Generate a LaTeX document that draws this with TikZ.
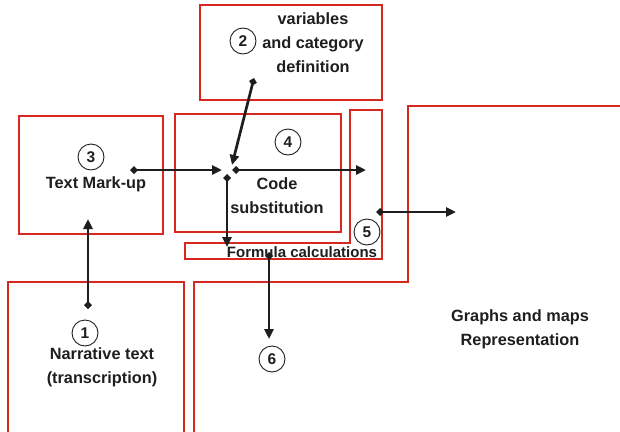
\documentclass[tikz,border=0pt]{standalone}
\usepackage{fontspec}
\setmainfont{Liberation Sans}
\usetikzlibrary{arrows.meta,positioning}
\definecolor{BoxRed}{RGB}{214,40,32}
\definecolor{InkGray}{RGB}{30,30,30}

\tikzset{
	box/.style={draw=BoxRed, line width=1.8pt, inner sep=0pt},
	num/.style={draw=InkGray, text=InkGray, circle, line width=0.9pt, minimum size=26pt, inner sep=0pt, font=\fontsize{15.5}{15}\selectfont\bfseries},
	lbl/.style={align=center, inner sep=0pt, text=InkGray, font=\fontsize{16.3}{24}\selectfont\bfseries},
	flow/.style={draw=InkGray, line width=2.7pt, {Diamond[length=8pt,width=8pt]}-{Triangle[length=10pt,width=9pt]}}
}

\begin{document}
\begin{tikzpicture}[x=1pt, y=-1pt]
	\useasboundingbox (0,0) rectangle (620,431);
	\clip (0,0) rectangle (620,431);
	% boxes
	\node[box, minimum width=182pt, minimum height=95pt] (vars) at (291,52.5) {};
	\node[box, minimum width=144pt, minimum height=118pt] (markup) at (91,175) {};
	\node[box, minimum width=166pt, minimum height=118pt] (code) at (258,173) {};
	\draw[box] (8,445) -- (8,282) -- (184,282) -- (184,445);
	\draw[box] (350,110) -- (382,110) -- (382,259) -- (185,259) -- (185,243) -- (350,243) -- cycle;
	\draw[box] (194,445) -- (194,282) -- (408,282) -- (408,106) -- (630,106);
	% labels
	\node[lbl] (varstext) at (313,43) {variables\\and category\\definition};
	\node[lbl] (markuptext) at (96,184) {Text Mark-up};
	\node[lbl] (codetext) at (277,196) {Code\\substitution};
	\node[lbl, font=\fontsize{15}{18}\selectfont\bfseries] (formula) at (302,252) {Formula calculations};
	\node[lbl] (narrative) at (102,367) {Narrative text\\(transcription)};
	\node[lbl] (graphs) at (520,329) {Graphs and maps\\Representation};
	% numbers
	\node[num] (n1) at (85,333) {1};
	\node[num] (n2) at (243,41) {2};
	\node[num] (n3) at (91,157) {3};
	\node[num] (n4) at (288,142) {4};
	\node[num] (n5) at (367,232) {5};
	\node[num] (n6) at (272,359) {6};
	% connector ends
	\coordinate (markupout) at (130,170);
	\coordinate (joinin) at (222,170);
	\coordinate (joinout) at (232,170);
	\coordinate (codeout) at (366,170);
	\coordinate (varsout) at (254,78);
	\coordinate (joinup) at (232,165);
	\coordinate (joindown) at (227,174);
	\coordinate (formulain) at (227,247);
	\coordinate (formulaout) at (269,252);
	\coordinate (graphsin) at (269,339);
	\coordinate (calcout) at (376,212);
	\coordinate (calcend) at (456,212);
	\coordinate (narrout) at (88,309);
	\coordinate (markupin) at (88,219);
	% arrows
	\draw[flow] (markupout) -- (joinin);
	\draw[flow] (joinout) -- (codeout);
	\draw[flow] (varsout) -- (joinup);
	\draw[flow] (joindown) -- (formulain);
	\draw[flow] (formulaout) -- (graphsin);
	\draw[flow] (calcout) -- (calcend);
	\draw[flow] (narrout) -- (markupin);
\end{tikzpicture}
\end{document}
